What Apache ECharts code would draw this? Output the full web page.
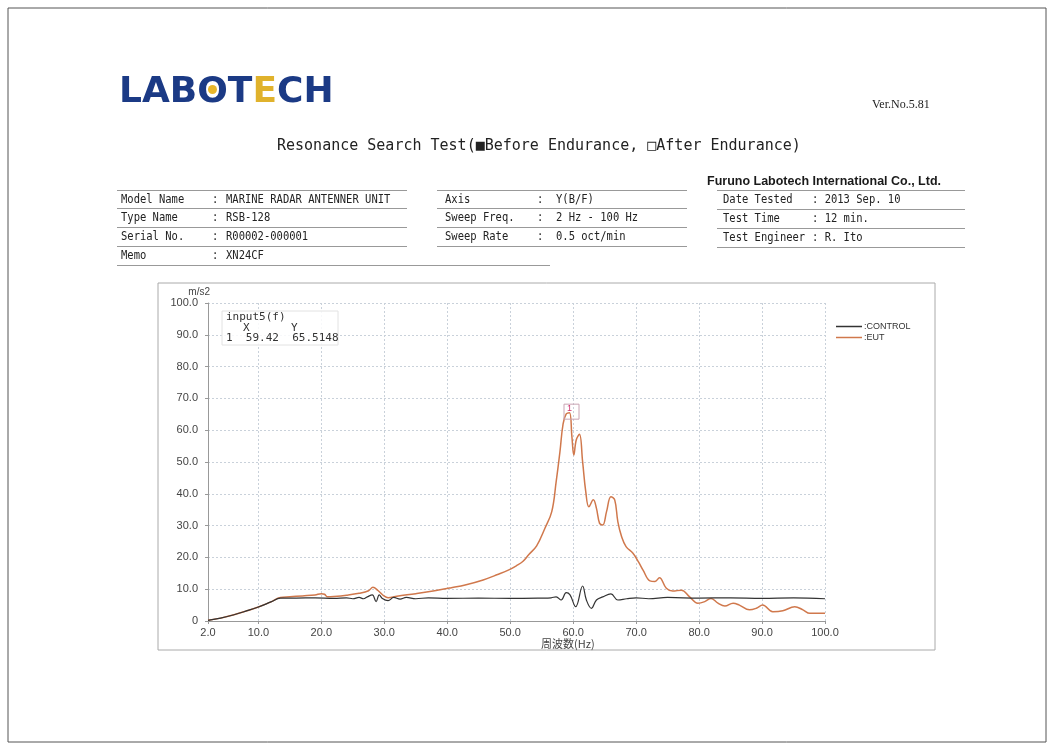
<!DOCTYPE html>
<html>
<head>
<meta charset="utf-8">
<script src="https://cdn.jsdelivr.net/npm/echarts@6/dist/echarts.min.js"></script>
<style>
  html, body { margin: 0; padding: 0; background: #fff; }
  #chart { position: absolute; left: 0; top: 0; width: 1053px; height: 749px; }
  .hd { position: absolute; white-space: nowrap; color: #222; z-index: 2; }
  .mono { font-family: "DejaVu Sans Mono", monospace; font-size: 10.5px; transform: scaleY(1.12); transform-origin: left top; }
  .rule { position: absolute; height: 0; border-top: 1px solid #999; z-index: 2; }
  .logo { font-family: "DejaVu Sans", sans-serif; font-weight: bold; font-size: 36px; color: #1b3a85; letter-spacing: 0px; }
</style>
</head>
<body>
<div id="chart"></div>

<div class="hd logo" style="left:119px;top:69px;">LAB<span style="position:relative">O<span style="position:absolute;left:11px;top:16px;width:9px;height:9px;border-radius:50%;background:#e8b62a"></span></span>T<span style="color:#e0b22c">E</span>CH</div>
<div class="hd" style="left:872px;top:97px;font-family:'Liberation Serif',serif;font-size:12px;">Ver.No.5.81</div>
<div class="hd" style="left:277px;top:136px;font-family:'DejaVu Sans Mono',monospace;font-size:15px;">Resonance Search Test(■Before Endurance, □After Endurance)</div>

<!-- table 1 -->
<div class="rule" style="left:117px;top:190px;width:290px;"></div>
<div class="hd mono" style="left:121px;top:192px;">Model Name</div><div class="hd mono" style="left:212px;top:192px;">:</div><div class="hd mono" style="left:226px;top:192px;">MARINE RADAR ANTENNER UNIT</div>
<div class="rule" style="left:117px;top:208px;width:290px;"></div>
<div class="hd mono" style="left:121px;top:210px;">Type Name</div><div class="hd mono" style="left:212px;top:210px;">:</div><div class="hd mono" style="left:226px;top:210px;">RSB-128</div>
<div class="rule" style="left:117px;top:227px;width:290px;"></div>
<div class="hd mono" style="left:121px;top:229px;">Serial No.</div><div class="hd mono" style="left:212px;top:229px;">:</div><div class="hd mono" style="left:226px;top:229px;">R00002-000001</div>
<div class="rule" style="left:117px;top:246px;width:290px;"></div>
<div class="hd mono" style="left:121px;top:248px;">Memo</div><div class="hd mono" style="left:212px;top:248px;">:</div><div class="hd mono" style="left:226px;top:248px;">XN24CF</div>
<div class="rule" style="left:117px;top:265px;width:433px;"></div>

<!-- table 2 -->
<div class="rule" style="left:437px;top:190px;width:250px;"></div>
<div class="hd mono" style="left:445px;top:192px;">Axis</div><div class="hd mono" style="left:537px;top:192px;">:</div><div class="hd mono" style="left:556px;top:192px;">Y(B/F)</div>
<div class="rule" style="left:437px;top:208px;width:250px;"></div>
<div class="hd mono" style="left:445px;top:210px;">Sweep Freq.</div><div class="hd mono" style="left:537px;top:210px;">:</div><div class="hd mono" style="left:556px;top:210px;">2 Hz - 100 Hz</div>
<div class="rule" style="left:437px;top:227px;width:250px;"></div>
<div class="hd mono" style="left:445px;top:229px;">Sweep Rate</div><div class="hd mono" style="left:537px;top:229px;">:</div><div class="hd mono" style="left:556px;top:229px;">0.5 oct/min</div>
<div class="rule" style="left:437px;top:246px;width:250px;"></div>

<!-- table 3 -->
<div class="hd" style="left:707px;top:174px;font-family:'Liberation Sans',Arial,sans-serif;font-weight:bold;font-size:12.5px;color:#1a1a1a;">Furuno Labotech International Co., Ltd.</div>
<div class="rule" style="left:717px;top:190px;width:248px;"></div>
<div class="hd mono" style="left:723px;top:192px;">Date Tested</div><div class="hd mono" style="left:812px;top:192px;">: 2013 Sep. 10</div>
<div class="rule" style="left:717px;top:209px;width:248px;"></div>
<div class="hd mono" style="left:723px;top:211px;">Test Time</div><div class="hd mono" style="left:812px;top:211px;">: 12 min.</div>
<div class="rule" style="left:717px;top:228px;width:248px;"></div>
<div class="hd mono" style="left:723px;top:230px;">Test Engineer</div><div class="hd mono" style="left:812px;top:230px;">: R. Ito</div>
<div class="rule" style="left:717px;top:247px;width:248px;"></div>

<script>
// frequency axis labels
const freqTicks = [2, 10, 20, 30, 40, 50, 60, 70, 80, 90, 100];

// EUT response (m/s2)
const eutFreq = [2, 4, 6, 8, 10, 12, 13.5, 15, 17, 19, 20, 20.5, 21, 22, 24, 26, 27.5, 28.2, 29, 30, 30.6, 32, 35, 38, 40.5, 43, 45.7, 48, 49.7, 51, 52, 53, 54.2, 55.5, 56.6, 57.3, 57.9, 58.4, 58.9, 59.42, 59.8, 60.1, 60.5, 61.0, 61.5, 62.0, 62.5, 63.2, 63.7, 64.2, 64.7, 65.3, 66.0, 66.6, 67.1, 67.7, 68.4, 69.5, 70.4, 71.1, 72.2, 73.0, 73.7, 74.8, 75.8, 77.2, 78.5, 79.8, 80.9, 81.9, 83.0, 84.1, 85.4, 86.4, 88.0, 89.1, 90.1, 91.7, 93.3, 95.2, 96.5, 97.6, 100];
const eutVal = [0.2, 0.9, 1.9, 3.1, 4.4, 6.0, 7.4, 7.6, 7.9, 8.2, 8.6, 8.4, 7.6, 7.7, 8.1, 8.7, 9.5, 10.6, 9.6, 7.8, 7.3, 7.8, 8.6, 9.5, 10.4, 11.4, 12.9, 14.6, 16.0, 17.4, 18.7, 21.0, 23.6, 29.1, 34.4, 43.8, 53.2, 62.0, 65.1, 65.5, 58.0, 52.2, 57.0, 58.7, 50.1, 40.7, 35.9, 38.1, 35.4, 30.7, 30.2, 34.4, 39.1, 38.1, 31.2, 26.5, 23.4, 21.3, 18.5, 16.0, 12.6, 12.4, 13.6, 10.3, 9.4, 9.7, 7.6, 5.6, 6.1, 7.1, 5.6, 4.7, 5.6, 5.0, 3.5, 4.0, 5.0, 2.9, 3.2, 4.5, 3.5, 2.4, 2.4];

// CONTROL response (m/s2)
const ctrlFreq = [2, 4, 6, 8, 10, 12, 13.5, 16, 19, 22, 24, 25, 26, 26.7, 27.3, 28.1, 28.7, 29.2, 29.7, 30.6, 31.5, 32.5, 33.5, 35, 37, 40, 45, 50, 55, 56.5, 57.3, 58.1, 58.9, 59.5, 60.4, 61.5, 62.1, 62.9, 63.7, 64.7, 66.0, 67.1, 68.5, 70, 72, 75, 80, 85, 90, 95, 100];
const ctrlVal = [0.2, 0.9, 1.9, 3.1, 4.4, 6.0, 7.2, 7.2, 7.3, 7.1, 7.3, 7.0, 7.4, 7.0, 7.6, 8.2, 6.1, 8.2, 7.1, 6.4, 7.4, 6.9, 7.4, 7.0, 7.3, 7.1, 7.2, 7.1, 7.2, 7.3, 7.6, 6.6, 8.9, 8.2, 4.5, 11.0, 6.6, 4.0, 6.6, 7.6, 8.5, 6.6, 7.0, 7.3, 7.0, 7.4, 7.2, 7.3, 7.1, 7.3, 7.0];

// marker readout
const markerX = 59.42;
const markerY = 65.5148;

const zip = (xs, ys) => xs.map((x, i) => [x, ys[i]]);

const chart = echarts.init(document.getElementById('chart'));
const labelFont = '"Liberation Sans", Arial, sans-serif';
const monoFont = '"DejaVu Sans Mono", monospace';
const gridLine = { show: true, lineStyle: { color: '#c9d1da', type: [2, 2] } };

chart.setOption({
  animation: false,
  grid: { left: 208, top: 303, width: 617, height: 318 },
  legend: {
    left: 836, top: 322, orient: 'vertical', itemGap: 2, padding: 0,
    itemWidth: 26, itemHeight: 1.5, icon: 'rect',
    data: ['CONTROL', 'EUT'],
    formatter: ':{name}',
    textStyle: { fontSize: 9, color: '#333', fontFamily: labelFont, padding: [0, 0, 0, -3] }
  },
  xAxis: {
    type: 'value', min: 2, max: 100,
    axisLine: { lineStyle: { color: '#999' } },
    axisTick: { show: true, customValues: freqTicks, length: 3, lineStyle: { color: '#999' } },
    axisLabel: {
      customValues: freqTicks, color: '#444', fontSize: 11, fontFamily: labelFont, margin: 6,
      formatter: v => v.toFixed(1)
    },
    splitLine: gridLine
  },
  yAxis: {
    type: 'value', min: 0, max: 100, interval: 10,
    name: 'm/s2', nameLocation: 'end', nameGap: 4,
    nameTextStyle: { fontSize: 10, color: '#444', fontFamily: labelFont, align: 'right', padding: [0, -2, 0, 0] },
    axisLine: { show: true, lineStyle: { color: '#999' } },
    axisTick: { show: true, length: 3, lineStyle: { color: '#999' } },
    axisLabel: {
      color: '#444', fontSize: 11, fontFamily: labelFont, margin: 10,
      formatter: v => v === 0 ? '0' : v.toFixed(1)
    },
    splitLine: gridLine
  },
  series: [
    {
      name: 'CONTROL', type: 'line', symbol: 'none', smooth: 0.4,
      data: zip(ctrlFreq, ctrlVal),
      lineStyle: { color: '#333', width: 1.2 }, itemStyle: { color: '#333' }, z: 3
    },
    {
      name: 'EUT', type: 'line', symbol: 'none', smooth: 0.4,
      data: zip(eutFreq, eutVal),
      lineStyle: { color: '#d0784c', width: 1.5 }, itemStyle: { color: '#d0784c' }, z: 2,
      markPoint: {
        silent: true,
        symbol: 'rect', symbolSize: [15, 15], symbolOffset: [2, -1],
        itemStyle: { color: 'rgba(255,255,255,0)', borderColor: '#c9a4b4', borderWidth: 1 },
        label: { show: true, formatter: '1', color: '#d02f6e', fontSize: 9, fontFamily: labelFont, position: 'inside', offset: [-2, -3] },
        data: [{ coord: [markerX, markerY] }]
      }
    }
  ],
  graphic: [
    { type: 'rect', shape: { x: 8, y: 8, width: 1038, height: 734 }, style: { fill: 'none', stroke: '#555', lineWidth: 1 }, z: -10 },
    { type: 'rect', shape: { x: 158, y: 283, width: 777, height: 367 }, style: { fill: 'none', stroke: '#aaa', lineWidth: 1 }, z: -10 },
    { type: 'rect', shape: { x: 222, y: 311, width: 116, height: 34 }, style: { fill: 'rgba(255,255,255,0.85)', stroke: '#e2e2e2', lineWidth: 1 }, z: 10 },
    { type: 'text', left: 226, top: 312, z: 11, style: { text: 'input5(f)', font: '11px ' + monoFont, fill: '#333' } },
    { type: 'text', left: 243, top: 323, z: 11, style: { text: 'X', font: '11px ' + monoFont, fill: '#333' } },
    { type: 'text', left: 291, top: 323, z: 11, style: { text: 'Y', font: '11px ' + monoFont, fill: '#333' } },
    { type: 'text', left: 226, top: 333, z: 11, style: { text: '1  ' + markerX.toFixed(2) + '  ' + markerY.toFixed(4), font: '11px ' + monoFont, fill: '#333' } },
    { type: 'text', left: 541, top: 638, z: 11, style: { text: '周波数(Hz)', font: '11px "Noto Sans CJK JP", sans-serif', fill: '#444' } }
  ]
});
</script>
</body>
</html>
